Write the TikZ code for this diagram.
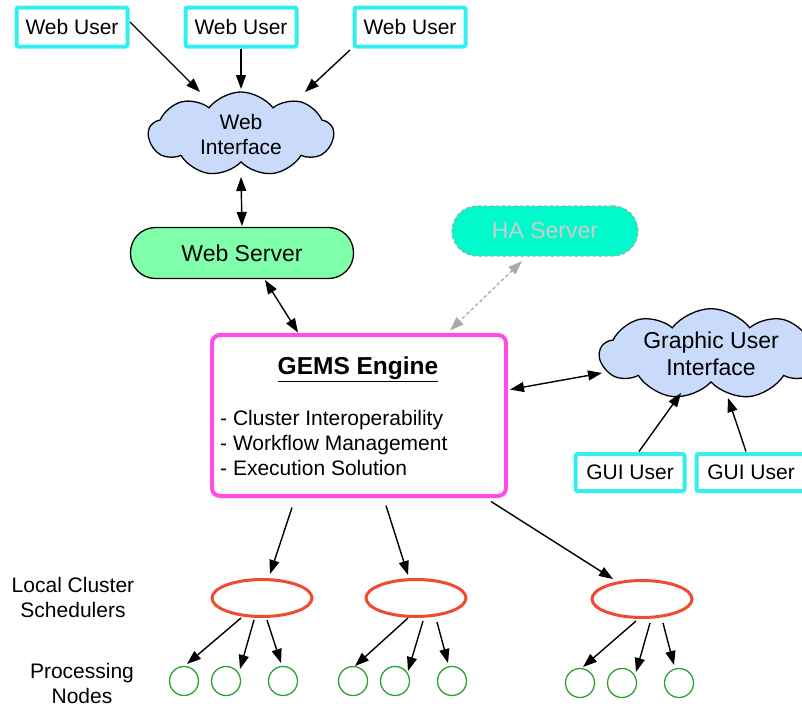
\documentclass[tikz,border=0pt]{standalone}
\usepackage{fontspec}
\setmainfont{Liberation Sans}
\usetikzlibrary{shapes.symbols,shapes.geometric,arrows.meta,calc}
\definecolor{cyanb}{RGB}{51,240,240}
\definecolor{magb}{RGB}{255,76,232}
\definecolor{redl}{RGB}{242,74,48}
\definecolor{greenc}{RGB}{46,160,46}
\definecolor{wsgreen}{RGB}{128,255,170}
\definecolor{hacyan}{RGB}{0,250,204}
\definecolor{cloudblue}{RGB}{201,218,250}
\definecolor{hatext}{RGB}{204,204,204}
\definecolor{hadash}{RGB}{170,170,170}
\begin{document}
\begin{tikzpicture}[x=1pt,y=-1pt,
  every node/.style={font=\fontsize{21}{25}\selectfont},
  bigtext/.style={font=\fontsize{23}{27}\selectfont},
  userbox/.style={draw=cyanb, line width=4pt, rounded corners=2pt, fill=white, minimum width=111pt, minimum height=39pt, inner sep=0pt},
  cloudnode/.style={cloud, cloud puffs=9, cloud puff arc=105, cloud ignores aspect, draw, line width=1.3pt, fill=cloudblue, inner sep=0pt, align=center},
  pill/.style={rounded corners=25pt, minimum width=223pt, minimum height=51pt, inner sep=0pt},
  sched/.style={ellipse, draw=redl, line width=3pt, minimum width=100pt, minimum height=37pt, inner sep=0pt},
  pnode/.style={circle, draw=greenc, line width=1.3pt, minimum size=29pt, inner sep=0pt},
  arr/.style={-{Triangle[length=14pt,width=10pt]}, line width=1.4pt},
  darr/.style={{Triangle[length=14pt,width=10pt]}-{Triangle[length=14pt,width=10pt]}, line width=1.4pt}]
\useasboundingbox (0,0) rectangle (802,707);

% web users
\node[userbox] (wu1) at (72,27) {Web User};
\node[userbox] (wu2) at (241,27) {Web User};
\node[userbox] (wu3) at (410,27) {Web User};

% web interface cloud
\node[cloudnode, minimum width=185pt, minimum height=84pt] (wi) at (241,134) {Web\\Interface};

% web server
\node[pill, bigtext, draw, line width=1.3pt, fill=wsgreen] (ws) at (242,253) {Web Server};

% HA server
\node[pill, bigtext, minimum width=186pt, minimum height=50pt, draw=hadash, dashed, line width=1.3pt, fill=hacyan, text=hatext] (ha) at (545,231) {HA Server};

% GEMS engine
\node[draw=magb, line width=4pt, rounded corners=8pt, minimum width=294pt, minimum height=161pt, fill=white] (gems) at (359,415.5) {};
\node[font=\bfseries\fontsize{24.5}{28}\selectfont] (title) at (358,369) {\underline{GEMS Engine}};
\node[anchor=west, align=left, inner sep=0pt] (feat) at (220,443) {- Cluster Interoperability\\- Workflow Management\\- Execution Solution};

% GUI cloud
\node[cloudnode, bigtext, minimum width=222pt, minimum height=88pt] (gui) at (711,354) {Graphic User\\Interface};

% GUI users
\node[userbox, minimum width=109pt, minimum height=37pt] (gu1) at (630,472.5) {GUI User};
\node[userbox, minimum width=109pt, minimum height=37pt] (gu2) at (751,472.5) {GUI User};

% schedulers
\node[sched] (e1) at (262,598) {};
\node[sched] (e2) at (416,598) {};
\node[sched] (e3) at (642,599) {};

% processing nodes
\node[pnode] (c1) at (184,681) {};
\node[pnode] (c2) at (226,681) {};
\node[pnode] (c3) at (283,681) {};
\node[pnode] (c4) at (353,681) {};
\node[pnode] (c5) at (395,681) {};
\node[pnode] (c6) at (452,681) {};
\node[pnode] (c7) at (580,683) {};
\node[pnode] (c8) at (622,683) {};
\node[pnode] (c9) at (679,683) {};

% labels
\node[align=center] (lcs) at (73,597) {Local Cluster\\Schedulers};
\node[align=center] (pn) at (82,683) {Processing\\Nodes};

% connectors
\draw[arr] ($(wu1)+(58,-5)$) -- ($(wi)+(-41,-42)$);
\draw[arr] (wu2.south) -- ($(wi)+(0,-45)$);
\draw[arr] ($(wu3)+(-60,23)$) -- ($(wi)+(64,-42)$);
\draw[darr] ($(wi)+(0,43)$) -- ($(ws)+(0,-27)$);
\draw[darr] ($(ws)+(23,27)$) -- ($(gems)+(-61,-83)$);
\draw[darr, draw=hadash, dashed, fill=hadash] ($(ha)+(-23,30)$) -- ($(gems)+(91,-85)$);
\draw[darr] ($(gems)+(151,-26)$) -- ($(gui)+(-109,19)$);
\draw[arr] ($(gu1)+(9,-21)$) -- ($(gui)+(-30,39)$);
\draw[arr] ($(gu2)+(-5,-21)$) -- ($(gui)+(17,44)$);
\draw[arr] ($(gems)+(-67,92)$) -- ($(e1)+(8,-24)$);
\draw[arr] ($(gems)+(27,90)$) -- ($(e2)+(-8,-23)$);
\draw[arr] ($(gems)+(132,86)$) -- ($(e3)+(-29,-20)$);

\draw[arr] ($(e1)+(-21,20)$) -- ($(c1)+(3,-17)$);
\draw[arr] ($(e1)+(-8,22)$) -- ($(c2)+(14,-12)$);
\draw[arr] ($(e1)+(5,22)$) -- ($(c3)+(-2,-18)$);
\draw[arr] ($(e2)+(-8,20)$) -- ($(c4)+(2,-15)$);
\draw[arr] ($(e2)+(7,23)$) -- ($(c5)+(13,-10)$);
\draw[arr] ($(e2)+(21,24)$) -- ($(c6)+(-4,-18)$);
\draw[arr] ($(e3)+(-6,22)$) -- ($(c7)+(3,-16)$);
\draw[arr] ($(e3)+(8,24)$) -- ($(c8)+(14,-11)$);
\draw[arr] ($(e3)+(21,24)$) -- ($(c9)+(-5,-18)$);
\end{tikzpicture}
\end{document}
